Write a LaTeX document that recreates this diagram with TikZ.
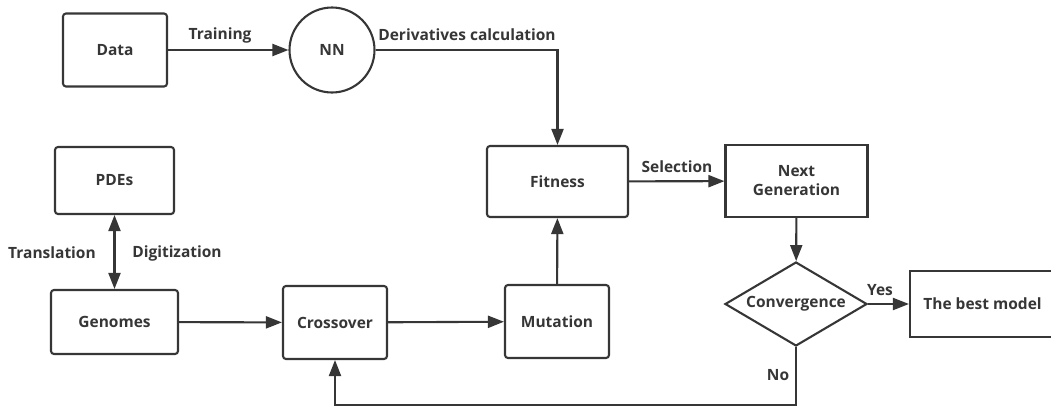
\documentclass[tikz,border=0pt]{standalone}
\usepackage{fontspec}
\setmainfont{Open Sans}
\usetikzlibrary{arrows.meta,shapes.geometric}
\definecolor{ink}{HTML}{363636}
\begin{document}
\begin{tikzpicture}[x=1pt,y=-1pt,
  every node/.style={font=\bfseries\fontsize{15.5}{19}\selectfont, text=ink},
  rbox/.style={draw=ink, line width=2.1pt, rounded corners=3pt, inner sep=0pt},
  sbox/.style={draw=ink, line width=2.1pt, inner sep=0pt},
  tip/.tip={Triangle[length=16pt,width=12pt]},
  conn/.style={draw=ink, line width=2.1pt, -tip},
  lab/.style={inner sep=0pt}]
\useasboundingbox (0,0) rectangle (1051,407);
% nodes
\node[rbox, minimum width=104pt, minimum height=73pt] (data) at (115,50) {Data};
\node[draw=ink, line width=2.1pt, circle, minimum size=85pt, inner sep=0pt] (nn) at (332,50) {NN};
\node[rbox, minimum width=119pt, minimum height=67pt] (pdes) at (114.5,180.5) {PDEs};
\node[rbox, minimum width=127pt, minimum height=64pt] (genomes) at (114.5,322) {Genomes};
\node[rbox, minimum width=104pt, minimum height=73pt] (cross) at (335,322.5) {Crossover};
\node[rbox, minimum width=104pt, minimum height=73pt] (mut) at (557,321.5) {Mutation};
\node[rbox, minimum width=141pt, minimum height=71pt] (fit) at (557.5,181.5) {Fitness};
\node[sbox, minimum width=142pt, minimum height=72pt, align=center] (next) at (796.5,181) {Next\\Generation};
\node[draw=ink, line width=2.1pt, diamond, aspect=1.7, inner sep=0pt, minimum width=142pt, minimum height=84pt] (conv) at (796,304) {Convergence};
\node[sbox, minimum width=145pt, minimum height=66pt] (best) at (982.5,304) {The best model};
\coordinate (loop) at (796,405);
% connectors
\draw[conn] (data) -- (nn);
\draw[conn] (nn.east) -| (fit.north);
\draw[draw=ink, line width=2.1pt, tip-tip] (pdes) -- (genomes);
\draw[conn] (genomes) -- (cross);
\draw[conn] (cross) -- (mut);
\draw[conn] (mut) -- (fit);
\draw[conn] (fit) -- (next);
\draw[conn] (next) -- (conv);
\draw[conn] (conv) -- (best);
\draw[conn] (conv.south) -- (loop) -| (cross.south);
% labels
\node[lab] (ltrain) at (220,35) {Training};
\node[lab] (lderiv) at (467,35) {Derivatives calculation};
\node[lab] (ltrans) at (52,253) {Translation};
\node[lab] (ldigit) at (177,253) {Digitization};
\node[lab] (lsel) at (677,167) {Selection};
\node[lab] (lyes) at (880,290) {Yes};
\node[lab] (lno) at (778,375) {No};
\end{tikzpicture}
\end{document}
